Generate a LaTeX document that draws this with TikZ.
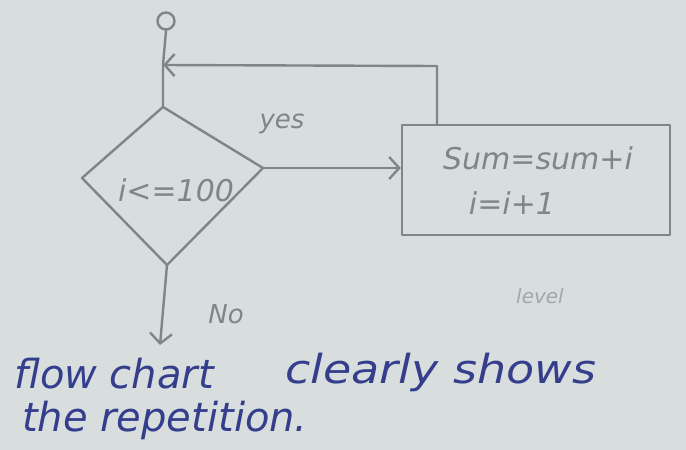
\documentclass[tikz,border=0pt]{standalone}
\usepackage{fontspec}
\setmainfont{DejaVu Sans}
\usetikzlibrary{arrows.meta,shapes.geometric}
\definecolor{paper}{RGB}{216,221,221}
\definecolor{pencil}{RGB}{128,134,134}
\definecolor{ink}{RGB}{52,62,140}
\begin{document}
\begin{tikzpicture}[x=1pt,y=-1pt,
  pen/.style={draw=pencil,line width=2.4pt,line cap=round,line join=round},
  arr/.style={pen,-{Straight Barb[length=10pt,width=22pt,line width=2.4pt]}},
  lbl/.style={text=pencil,font=\itshape\fontsize{30}{34}\selectfont,inner sep=0pt},
  note/.style={text=ink,font=\itshape\fontsize{40}{44}\selectfont,inner sep=0pt,anchor=west}]
\fill[paper] (0,0) rectangle (686,450);
\useasboundingbox (0,0) rectangle (686,450);
% start terminal
\node[pen,circle,minimum size=17pt,inner sep=0pt] (start) at (166,21) {};
% decision
\coordinate (dt) at (163,107);
\coordinate (dl) at (82,178);
\coordinate (dr) at (263,168);
\coordinate (db) at (167,265);
\draw[pen] (dt) -- (dr) -- (db) -- (dl) -- cycle;
\node[lbl] (cond) at (176,190) {i<=100};
% process box
\node[pen,rectangle,minimum width=268pt,minimum height=110pt,inner sep=0pt] (proc) at (536,180) {};
\node[lbl] (body1) at (538,158) {Sum=sum+i};
\node[lbl] (body2) at (512,203) {i=i+1};
% loop back
\coordinate (merge) at (163,65);
\coordinate (corner) at (437,66);
\draw[pen] (start.south) -- (merge) -- (dt);
\draw[arr] (proc.north -| corner) -- (corner) -- (merge);
% yes branch
\draw[arr] (dr) -- (dr -| proc.west);
\node[lbl,font=\itshape\fontsize{26}{28}\selectfont] (yes) at (282,124) {yes};
% no branch
\coordinate (exit) at (160,345);
\draw[arr] (db) -- (exit);
\node[lbl,font=\itshape\fontsize{26}{28}\selectfont] (no) at (226,314) {No};
\node[lbl,text=pencil!60!paper,font=\itshape\fontsize{20}{22}\selectfont] (lev) at (540,296) {level};
% note
\node[note] (n1) at (14,374) {flow chart};
\node[note,xscale=1.15] (n2) at (285,372) {clearly shows};
\node[note] (n3) at (22,420) {the repetition.};
\end{tikzpicture}
\end{document}
